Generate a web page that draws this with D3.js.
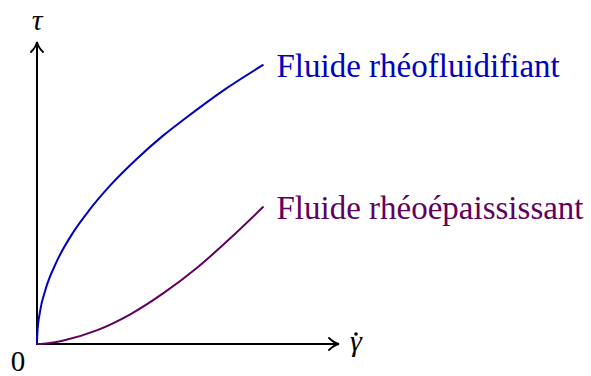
<!DOCTYPE html>
<html>
<head>
<meta charset="utf-8">
<script src="https://cdn.jsdelivr.net/npm/d3@7"></script>
<style>
  body { margin: 0; background: #fff; }
  text { font-family: "Liberation Serif", "DejaVu Serif", serif; }
</style>
</head>
<body>
<div id="chart"></div>
<script>
// Chart size
var svgWidth = 591;
var svgHeight = 376;

// Shear-thinning curve
var shearThinX = [0, 0.005, 0.04, 0.106, 0.26, 0.48, 0.69, 0.97, 1.32, 1.67, 1.94, 2.47, 3.0];
var shearThinY = [0, 0.15, 0.43, 0.70, 1.09, 1.48, 1.77, 2.10, 2.45, 2.76, 2.97, 3.36, 3.70];

// Shear-thickening curve
var shearThickX = [0, 0.15, 0.35, 0.79, 1.23, 1.67, 2.12, 2.56, 3.0];
var shearThickY = [0, 0.011, 0.047, 0.18, 0.39, 0.67, 1.01, 1.40, 1.82];

var curveNames = ["Fluide rhéofluidifiant", "Fluide rhéoépaississant"];
var curveColors = ["#0000bf", "#600060"];

var svg = d3.select("#chart")
  .append("svg")
  .attr("width", svgWidth)
  .attr("height", svgHeight);

// Scales (axis runs 0..4 units each way)
var xScale = d3.scaleLinear().domain([0, 4]).range([37, 339]);
var yScale = d3.scaleLinear().domain([0, 4]).range([344, 42]);

// Arrow head like the TikZ "to" tip
var defs = svg.append("defs");
defs.append("marker")
  .attr("id", "tip")
  .attr("viewBox", "-10 -7 12 14")
  .attr("markerWidth", 12)
  .attr("markerHeight", 14)
  .attr("refX", 0)
  .attr("refY", 0)
  .attr("markerUnits", "userSpaceOnUse")
  .attr("orient", "auto")
  .append("path")
  .attr("d", "M-9,-6 Q-4,-1 1,0 Q-4,1 -9,6")
  .attr("fill", "none")
  .attr("stroke", "#000")
  .attr("stroke-width", 1.8)
  .attr("stroke-linecap", "round");

// Axes
svg.append("line")
  .attr("x1", xScale(0) - 1).attr("y1", yScale(0))
  .attr("x2", xScale(4) - 1).attr("y2", yScale(0))
  .attr("stroke", "#000")
  .attr("stroke-width", 2)
  .attr("marker-end", "url(#tip)");

svg.append("line")
  .attr("x1", xScale(0)).attr("y1", yScale(0) + 1)
  .attr("x2", xScale(0)).attr("y2", yScale(4) + 1)
  .attr("stroke", "#000")
  .attr("stroke-width", 2)
  .attr("marker-end", "url(#tip)");

// Curves
var line = d3.line()
  .x(d => xScale(d[0]))
  .y(d => yScale(d[1]))
  .curve(d3.curveMonotoneX);

var series = [
  d3.zip(shearThinX, shearThinY),
  d3.zip(shearThickX, shearThickY)
];

series.forEach(function(pts, i) {
  svg.append("path")
    .datum(pts)
    .attr("d", line)
    .attr("fill", "none")
    .attr("stroke", curveColors[i])
    .attr("stroke-width", 2);

  var last = pts[pts.length - 1];
  svg.append("text")
    .attr("x", xScale(last[0]) + 13)
    .attr("y", yScale(last[1]) + 12)
    .attr("fill", curveColors[i])
    .attr("font-size", "33px")
    .text(curveNames[i]);
});

// Axis labels
svg.append("text")
  .attr("x", xScale(0))
  .attr("y", 30)
  .attr("text-anchor", "middle")
  .attr("font-style", "italic")
  .attr("font-size", "30px")
  .text("τ");

svg.append("text")
  .attr("x", 350)
  .attr("y", 351)
  .attr("font-style", "italic")
  .attr("font-size", "30px")
  .text("γ");

// dot accent over gamma
svg.append("circle")
  .attr("cx", 356)
  .attr("cy", 334)
  .attr("r", 1.8)
  .attr("fill", "#000");

svg.append("text")
  .attr("x", 18)
  .attr("y", 371)
  .attr("text-anchor", "middle")
  .attr("font-size", "29px")
  .text("0");
</script>
</body>
</html>
